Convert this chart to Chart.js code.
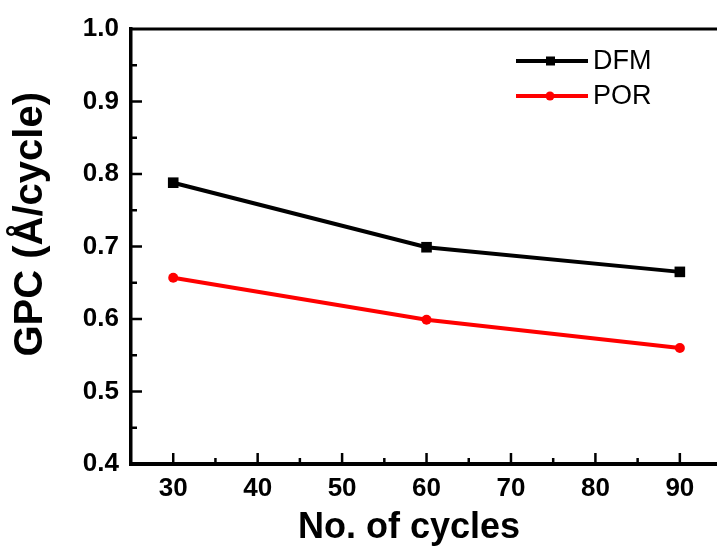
<!DOCTYPE html>
<html>
<head>
<meta charset="utf-8">
<script src="https://cdn.jsdelivr.net/npm/chart.js@4.4.1/dist/chart.umd.min.js"></script>
<style>
  html, body { margin: 0; padding: 0; background: #fff; }
  #wrap { width: 717px; height: 552px; }
</style>
</head>
<body>
<div id="wrap"><canvas id="gpcChart" width="717" height="552"></canvas></div>
<script>
// Data
const cycles = [30, 60, 90];
const dfmGpc = [0.788, 0.699, 0.665];
const porGpc = [0.657, 0.599, 0.560];
const xTickValues = [30, 40, 50, 60, 70, 80, 90];
const yTickValues = [0.4, 0.5, 0.6, 0.7, 0.8, 0.9, 1.0];

const FONT = '"Liberation Sans", Arial, sans-serif';

// Inward tick marks, top frame line and a line+marker legend
const framePlugin = {
    id: 'framePlugin',
    afterDraw(chart) {
        const ctx = chart.ctx;
        const area = chart.chartArea;
        const xs = chart.scales.x;
        const ys = chart.scales.y;
        const axisY = xs.top;
        const axisX = ys.right;
        ctx.save();
        ctx.strokeStyle = '#000';
        ctx.lineWidth = 3;

        // top frame
        ctx.beginPath();
        ctx.moveTo(axisX - 1.5, area.top);
        ctx.lineTo(chart.width, area.top);
        ctx.stroke();

        ctx.lineWidth = 2.5;
        // x ticks (major every 10, minor every 5), pointing into the plot
        for (let v = 30; v <= 95; v += 5) {
            const px = xs.getPixelForValue(v);
            if (px > chart.width) continue;
            const len = v % 10 === 0 ? 11 : 6;
            ctx.beginPath();
            ctx.moveTo(px, axisY);
            ctx.lineTo(px, axisY - len);
            ctx.stroke();
        }
        // y ticks
        for (let i = 9; i <= 19; i++) {
            const py = ys.getPixelForValue(i / 20);
            const len = i % 2 === 0 ? 11 : 6;
            ctx.beginPath();
            ctx.moveTo(axisX, py);
            ctx.lineTo(axisX + len, py);
            ctx.stroke();
        }

        // legend
        const items = [
            { label: 'DFM', color: '#000000', style: 'rect', y: 61 },
            { label: 'POR', color: '#ff0000', style: 'circle', y: 96 }
        ];
        ctx.font = '27px ' + FONT;
        ctx.textBaseline = 'middle';
        items.forEach(it => {
            ctx.strokeStyle = it.color;
            ctx.fillStyle = it.color;
            ctx.lineWidth = 4;
            ctx.beginPath();
            ctx.moveTo(516, it.y);
            ctx.lineTo(588, it.y);
            ctx.stroke();
            if (it.style === 'rect') {
                ctx.fillRect(546, it.y - 4.5, 9, 9);
            } else {
                ctx.beginPath();
                ctx.arc(550, it.y, 4.5, 0, Math.PI * 2);
                ctx.fill();
            }
            ctx.fillStyle = '#000';
            ctx.fillText(it.label, 593, it.y + 1);
        });
        ctx.restore();
    }
};

function renderGpcChart() {
    const ctx = document.getElementById('gpcChart').getContext('2d');
    new Chart(ctx, {
        type: 'line',
        data: {
            datasets: [{
                label: 'DFM',
                data: cycles.map((c, i) => ({ x: c, y: dfmGpc[i] })),
                borderColor: '#000000',
                backgroundColor: '#000000',
                borderWidth: 4,
                pointStyle: 'rect',
                pointRadius: 7.5,
                pointBorderWidth: 0,
                tension: 0
            }, {
                label: 'POR',
                data: cycles.map((c, i) => ({ x: c, y: porGpc[i] })),
                borderColor: '#ff0000',
                backgroundColor: '#ff0000',
                borderWidth: 4,
                pointStyle: 'circle',
                pointRadius: 5,
                pointBorderWidth: 0,
                tension: 0
            }]
        },
        options: {
            responsive: false,
            animation: false,
            layout: { autoPadding: false, padding: { top: 29, right: 0, left: 0, bottom: 0 } },
            plugins: {
                legend: { display: false },
                tooltip: { enabled: false }
            },
            scales: {
                x: {
                    type: 'linear',
                    min: 25,
                    max: 94.4,
                    afterFit(scale) {
                        scale.height = 88;
                        scale.paddingLeft = 0;
                        scale.paddingRight = 0;
                    },
                    afterBuildTicks(scale) { scale.ticks = xTickValues.map(v => ({ value: v })); },
                    grid: { display: false, drawTicks: false },
                    border: { display: true, color: '#000', width: 4 },
                    ticks: {
                        color: '#000',
                        padding: 9,
                        font: { family: FONT, size: 26, weight: 'bold' },
                        callback: v => String(v)
                    },
                    title: {
                        display: true,
                        text: 'No. of cycles   ',
                        color: '#000',
                        padding: { top: 0, bottom: 2 },
                        font: { family: FONT, size: 36, weight: 'bold' }
                    }
                },
                y: {
                    min: 0.4,
                    max: 1.0,
                    afterFit(scale) {
                        scale.width = 131;
                        scale.paddingTop = 0;
                        scale.paddingBottom = 0;
                    },
                    afterBuildTicks(scale) { scale.ticks = yTickValues.map(v => ({ value: v })); },
                    grid: { display: false, drawTicks: false },
                    border: { display: true, color: '#000', width: 3.5 },
                    ticks: {
                        color: '#000',
                        padding: 12,
                        font: { family: FONT, size: 26, weight: 'bold' },
                        callback: v => Number(v).toFixed(1)
                    },
                    title: {
                        display: true,
                        text: '    GPC (Å/cycle)',
                        color: '#000',
                        padding: { top: 7, bottom: 0 },
                        font: { family: FONT, size: 40, weight: 'bold' }
                    }
                }
            }
        },
        plugins: [framePlugin]
    });
}

document.addEventListener('DOMContentLoaded', renderGpcChart);
</script>
</body>
</html>
